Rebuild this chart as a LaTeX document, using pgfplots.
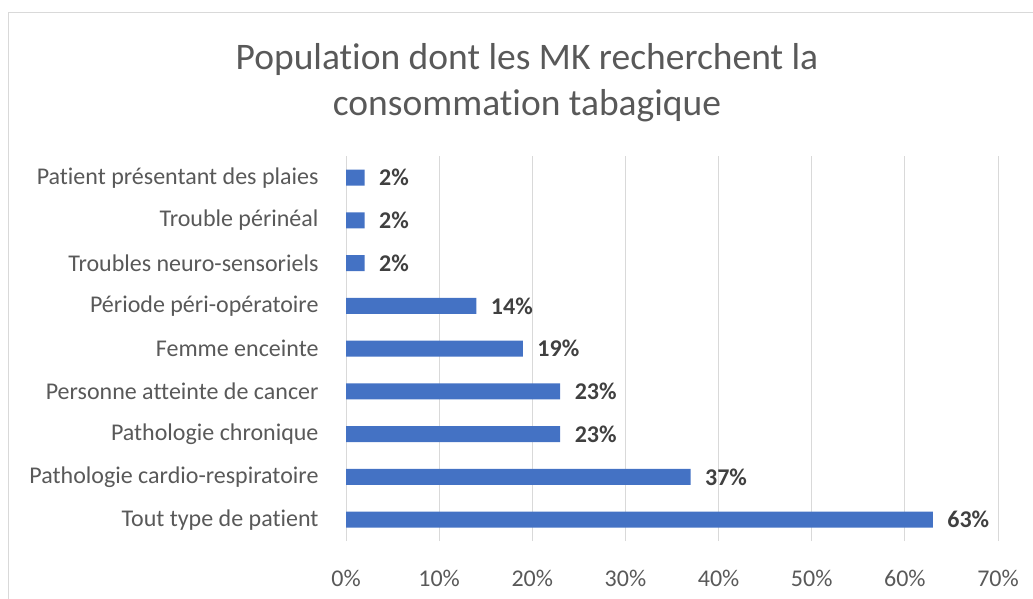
\documentclass[border=0pt]{standalone}
\usepackage{fontspec}
\setmainfont{Carlito}[Ligatures={NoCommon}]
\usepackage{pgfplots}
\pgfplotsset{compat=1.18}
\definecolor{barblue}{HTML}{4472C4}
\definecolor{gridgray}{HTML}{D9D9D9}
\definecolor{textgray}{HTML}{595959}
\definecolor{labelgray}{HTML}{404040}
\begin{document}
\begin{tikzpicture}[x=1bp,y=1bp]
\path[use as bounding box] (0,0) rectangle (1033,-599);
% chart frame (top and left edges only are visible)
\draw[gridgray, line width=1.2bp] (8.5,-599) -- (8.5,-12.5) -- (1033,-12.5);
% title
\node[text=textgray, align=center, font=\fontsize{37.5bp}{46bp}\selectfont]
  at (527,-82.5) {Population dont les MK recherchent la\\consommation tabagique};
\begin{axis}[
    at={(346bp,-541bp)}, anchor=south west,
    scale only axis,
    width=652bp, height=384.75bp,
    xbar, bar width=16bp,
    xmin=0, xmax=70,
    ymin=-0.5, ymax=8.5,
    xtick={0,10,...,70},
    xticklabel={\pgfmathprintnumber{\tick}\%},
    ytick=data,
    yticklabels={Tout type de patient, Pathologie cardio-respiratoire,
      Pathologie chronique, Personne atteinte de cancer, Femme enceinte,
      Période péri-opératoire, Troubles neuro-sensoriels, Trouble périnéal,
      Patient présentant des plaies},
    /pgf/number format/assume math mode=true,
    axis line style={draw=none},
    major tick length=0pt,
    tick label style={text=textgray, font=\fontsize{24bp}{28bp}\selectfont},
    xticklabel style={anchor=center, yshift=-37bp},
    yticklabel style={anchor=east, xshift=-24bp},
    xmajorgrids, grid style={gridgray, line width=1bp},
    nodes near coords={\pgfmathprintnumber{\pgfplotspointmeta}\%},
    point meta=x,
    nodes near coords style={anchor=west, xshift=11bp, text=labelgray,
      font=\fontsize{24bp}{28bp}\selectfont\bfseries},
]
\addplot[fill=barblue, draw=none] coordinates {
    (63,0) (37,1) (23,2) (23,3) (19,4) (14,5) (2,6) (2,7) (2,8)
};
\end{axis}
\end{tikzpicture}
\end{document}
